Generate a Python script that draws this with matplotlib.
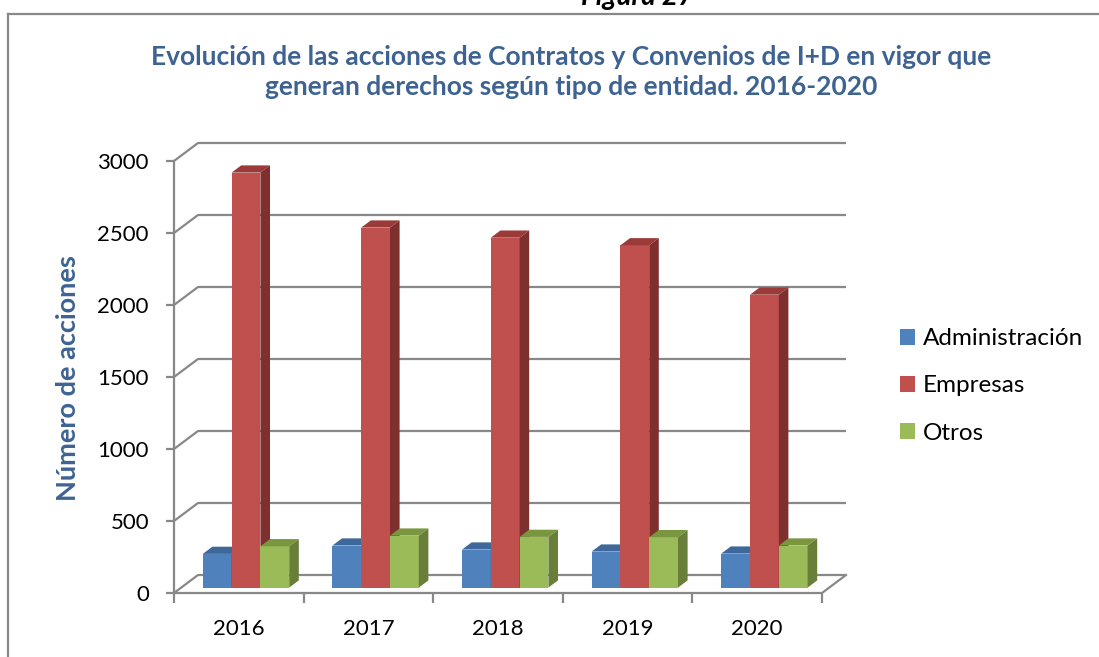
import matplotlib.pyplot as plt
from matplotlib.patches import Polygon, Patch
from matplotlib.lines import Line2D

plt.rcParams['font.family'] = ['Lato', 'DejaVu Sans']

# Data
years = ['2016', '2017', '2018', '2019', '2020']
series = ['Administración', 'Empresas', 'Otros']
administracion = [234, 292, 264, 250, 236]
empresas = [2882, 2500, 2430, 2377, 2034]
otros = [287, 361, 352, 350, 292]
values = [administracion, empresas, otros]

front_colors = ['#4F81BD', '#C0504D', '#9BBB59']
top_colors = ['#3D6899', '#9A3B39', '#7A963F']
side_colors = ['#365A86', '#7E302E', '#687E39']
grid_color = '#888888'
title_color = '#3E6393'

W, H = 1099, 657
fig = plt.figure(figsize=(W / 100, H / 100), dpi=100)

# plot area in pixels: front plane x 174..822, y 593..161, back wall shifted (+24, -18)
n = len(years)
ymax = 3000
front_l, front_r, front_b, front_t = 174, 822, 593, 161
shift_x, shift_y = 24, 18
px_cat = (front_r - front_l) / n
px_val = (front_b - front_t) / ymax
depth_x = shift_x / px_cat
depth_y = shift_y / px_val

ax = fig.add_axes([front_l / W, 1 - front_b / H,
                   (front_r + shift_x - front_l) / W,
                   (front_b - front_t + shift_y) / H])
ax.set_xlim(0, n + depth_x)
ax.set_ylim(0, ymax + depth_y)
ax.patch.set_visible(False)
for s in ax.spines.values():
    s.set_visible(False)

# walls / gridlines
for v in range(0, ymax + 1, 500):
    ax.plot([0, depth_x, n + depth_x], [v, v + depth_y, v + depth_y],
            color=grid_color, lw=1.6, zorder=1, clip_on=False,
            solid_capstyle='butt')
ax.plot([0, 0], [0, ymax], color=grid_color, lw=1.6, zorder=1, clip_on=False)
ax.plot([0, n, n + depth_x], [0, 0, depth_y], color=grid_color, lw=1.6,
        zorder=1, clip_on=False)

# ticks
ax.set_yticks(range(0, ymax + 1, 500))
ax.tick_params(axis='y', length=6, width=1.6, color=grid_color, pad=12,
               labelsize=16)
ax.set_xticks(range(0, n + 1))
ax.set_xticklabels([])
ax.set_xticks([i + 0.5 for i in range(n)], minor=True)
ax.set_xticklabels(years, minor=True)
ax.tick_params(axis='x', which='major', length=7, width=1.6, color=grid_color)
ax.tick_params(axis='x', which='minor', length=0, pad=19, labelsize=16)

# 3D-looking columns
bar_w = 1 / 4.5
offset = (1 - 3 * bar_w) / 2
d0, d1 = 0.3, 0.7
ddx = (d1 - d0) * depth_x
ddy = (d1 - d0) * depth_y
for i in range(n):
    for j, vals in enumerate(values):
        v = vals[i]
        xl = i + offset + j * bar_w + d0 * depth_x
        xr = xl + bar_w
        yb = d0 * depth_y
        yt = yb + v
        z = 2 + i + j * 0.1
        ax.bar(xl, v, width=bar_w, bottom=yb, align='edge',
               color=front_colors[j], zorder=z)
        ax.add_patch(Polygon([(xl, yt), (xr, yt), (xr + ddx, yt + ddy),
                              (xl + ddx, yt + ddy)], closed=True,
                             facecolor=top_colors[j], edgecolor='none', zorder=z))
        ax.add_patch(Polygon([(xr, yb), (xr + ddx, yb + ddy),
                              (xr + ddx, yt + ddy), (xr, yt)], closed=True,
                             facecolor=side_colors[j], edgecolor='none', zorder=z))

# titles
fig.text(571 / W, 1 - 72 / H,
         'Evolución de las acciones de Contratos y Convenios de I+D en vigor que\n'
         'generan derechos según tipo de entidad. 2016-2020',
         ha='center', va='center', fontsize=19, fontweight='bold',
         color=title_color, linespacing=1.3)
fig.text(68 / W, 1 - 378 / H, 'Número de acciones', rotation=90,
         ha='center', va='center', fontsize=19.5, fontweight='bold',
         color=title_color)
fig.text(638 / W, 1 - 5 / H, 'Figura 27', ha='center', va='baseline',
         fontsize=20, fontweight='bold', style='italic')

# legend
handles = [Patch(facecolor=c, edgecolor='none') for c in front_colors]
fig.legend(handles, series, loc='center left',
           bbox_to_anchor=(900 / W, 1 - 386 / H), frameon=False,
           fontsize=17.5, handlelength=0.62, handleheight=0.62,
           handletextpad=0.33, labelspacing=1.07, borderpad=0,
           borderaxespad=0)

# outer chart frame (partly outside the picture)
fig.add_artist(Line2D([8 / W, 1], [1 - 14 / H, 1 - 14 / H], color='#888888',
                      lw=1.6, transform=fig.transFigure))
fig.add_artist(Line2D([8 / W, 8 / W], [0, 1 - 14 / H], color='#888888',
                      lw=1.6, transform=fig.transFigure))

fig.savefig('out.png', dpi=100, facecolor='white')
